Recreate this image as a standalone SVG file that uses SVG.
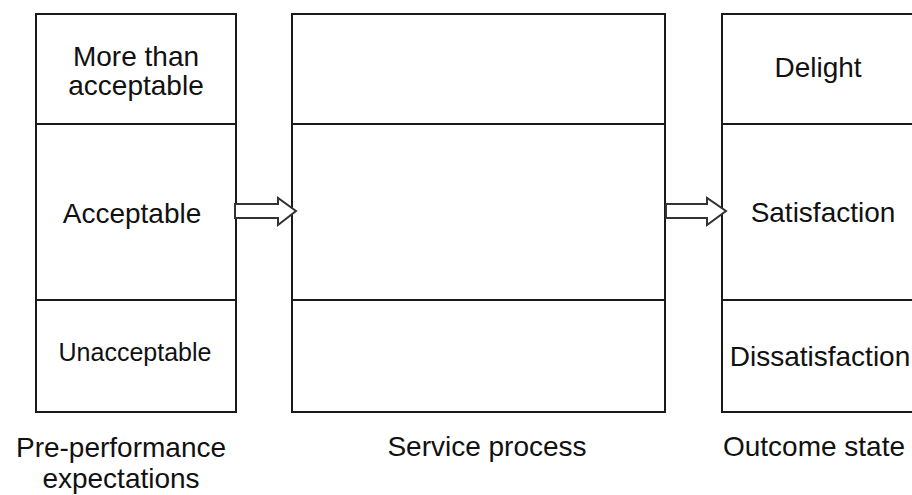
<svg xmlns="http://www.w3.org/2000/svg" width="912" height="495" viewBox="0 0 912 495">
<style>
.box{fill:#fff;stroke:#1a1a1a;stroke-width:2}
.div{stroke:#1a1a1a;stroke-width:2}
.t{font-family:"Liberation Sans",Arial,sans-serif;font-size:28px;fill:#111;text-anchor:middle}
.s{font-size:25px}
.arr{fill:#fff;stroke:#333;stroke-width:2;stroke-linejoin:miter}
</style>
<rect width="912" height="495" fill="#fff"/>
<g id="expectations">
<rect class="box" x="36" y="14" width="200" height="398"/>
<line class="div" x1="36" y1="124" x2="236" y2="124"/>
<line class="div" x1="36" y1="300" x2="236" y2="300"/>
<text class="t" x="136" y="66">More than</text>
<text class="t" x="136" y="95">acceptable</text>
<text class="t" x="132" y="223">Acceptable</text>
<text class="t s" x="135" y="361">Unacceptable</text>
<text class="t" x="121" y="457">Pre-performance</text>
<text class="t" x="121" y="488">expectations</text>
</g>
<g id="service">
<rect class="box" x="292" y="14" width="373" height="398"/>
<line class="div" x1="292" y1="124" x2="665" y2="124"/>
<line class="div" x1="292" y1="300" x2="665" y2="300"/>
<text class="t" x="487" y="456">Service process</text>
</g>
<g id="outcome">
<rect class="box" x="722" y="14" width="220" height="398"/>
<line class="div" x1="722" y1="124" x2="912" y2="124"/>
<line class="div" x1="722" y1="300" x2="912" y2="300"/>
<text class="t" x="818" y="77">Delight</text>
<text class="t" x="823" y="222">Satisfaction</text>
<text class="t" x="820" y="366">Dissatisfaction</text>
<text class="t" x="814" y="456">Outcome state</text>
</g>
<g id="connectors">
<polygon class="arr" points="235,204 278,204 278,198 296,211 278,225 278,218 235,218"/>
<polygon class="arr" points="666,204 707,204 707,198 726,211 707,225 707,218 666,218"/>
</g>
</svg>
